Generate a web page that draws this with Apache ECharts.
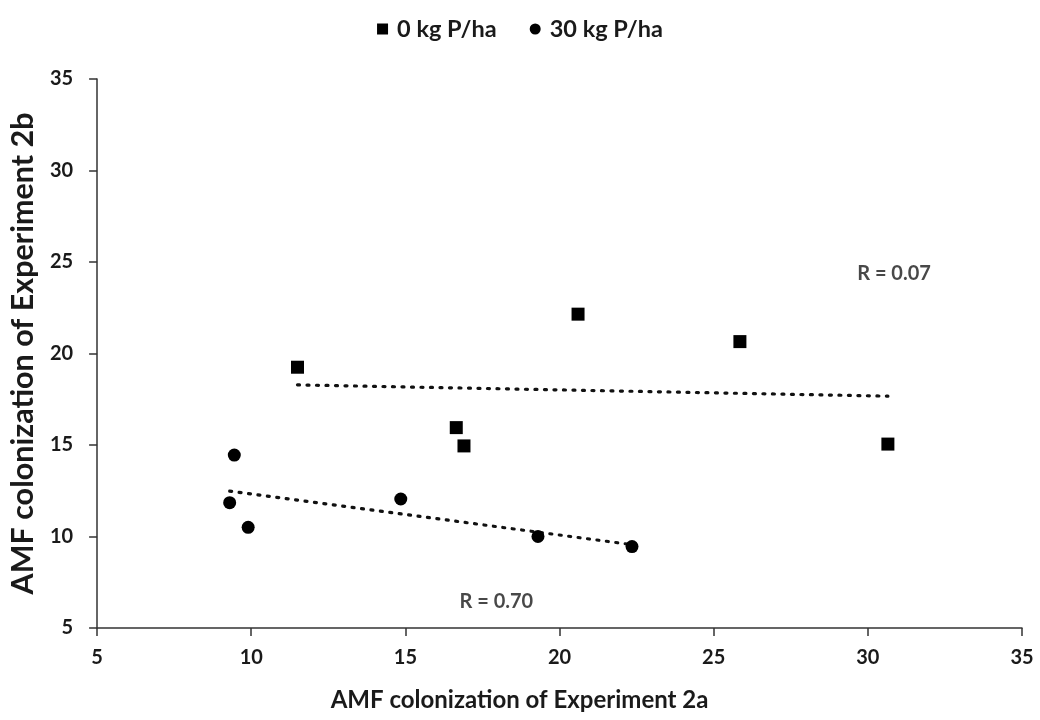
<!DOCTYPE html>
<html><head><meta charset="utf-8">
<script src="https://cdn.jsdelivr.net/npm/echarts@6/dist/echarts.min.js"></script>
<style>html,body{margin:0;padding:0;background:#fff}#c{width:1040px;height:720px}</style>
</head><body><div id="c"></div>
<script>
const seriesNames = ['0 kg P/ha', '30 kg P/ha'];
const p0x = [11.5, 20.6, 25.85, 16.65, 16.9, 30.65];
const p0y = [19.25, 22.15, 20.65, 15.95, 14.95, 15.05];
const p30x = [9.45, 9.3, 9.9, 14.85, 19.3, 22.35];
const p30y = [14.45, 11.85, 10.5, 12.05, 10.0, 9.45];
const rLabels = ['R = 0.07', 'R = 0.70'];
const rPos = [[30.85, 24.35], [17.95, 6.45]];

function zip(xs, ys){ return xs.map((x,i)=>[x, ys[i]]); }
function trend(xs, ys){
  const n = xs.length;
  const mx = xs.reduce((a,b)=>a+b,0)/n, my = ys.reduce((a,b)=>a+b,0)/n;
  let sxy=0, sxx=0;
  for(let i=0;i<n;i++){ sxy+=(xs[i]-mx)*(ys[i]-my); sxx+=(xs[i]-mx)**2; }
  const b = sxy/sxx, a = my - b*mx;
  const x0 = Math.min(...xs), x1 = Math.max(...xs);
  return [[x0, a+b*x0], [x1, a+b*x1]];
}

const font = 'Lato, "Open Sans", sans-serif';
const txt = '#1a1a1a';
const chart = echarts.init(document.getElementById('c'));
chart.setOption({
  animation: false,
  backgroundColor: '#fff',
  grid: { left: 97, right: 18, top: 79, bottom: 92 },
  legend: {
    data: [{name: seriesNames[0], icon: 'rect'}, {name: seriesNames[1], icon: 'circle'}],
    top: 12, left: 'center', itemWidth: 11, itemHeight: 11, itemGap: 33,
    textStyle: { fontFamily: font, fontWeight: 'bold', fontSize: 23.5, color: txt, padding: [0, 0, 0, 4] }
  },
  xAxis: {
    type: 'value', min: 5, max: 35, interval: 5,
    name: 'AMF colonization of Experiment 2a', nameLocation: 'middle', nameGap: 60,
    nameTextStyle: { fontFamily: font, fontWeight: 'bold', fontSize: 24, color: txt, padding: [0, 80, 0, 0] },
    axisLine: { show: true, lineStyle: { color: '#333', width: 1.5 } },
    axisTick: { show: true, length: 8, lineStyle: { color: '#333', width: 1.5 } },
    axisLabel: { fontFamily: font, fontWeight: 'bold', fontSize: 20, color: txt, margin: 20 },
    splitLine: { show: false }
  },
  yAxis: {
    type: 'value', min: 5, max: 35, interval: 5,
    name: 'AMF colonization of Experiment 2b', nameLocation: 'middle', nameGap: 50,
    nameTextStyle: { fontFamily: font, fontWeight: 'bold', fontSize: 30.5, color: txt },
    axisLine: { show: true, lineStyle: { color: '#333', width: 1.5 } },
    axisTick: { show: true, length: 8, lineStyle: { color: '#333', width: 1.5 } },
    axisLabel: { fontFamily: font, fontWeight: 'bold', fontSize: 20, color: txt, margin: 24 },
    splitLine: { show: false }
  },
  series: [
    { name: seriesNames[0], type: 'scatter', symbol: 'rect', symbolSize: 13,
      itemStyle: { color: '#000', opacity: 1 }, data: zip(p0x, p0y), z: 3 },
    { name: seriesNames[1], type: 'scatter', symbol: 'circle', symbolSize: 13,
      itemStyle: { color: '#000', opacity: 1 }, data: zip(p30x, p30y), z: 3 },
    { type: 'line', data: trend(p0x, p0y), symbol: 'none', silent: true,
      lineStyle: { color: '#111', width: 3.2, type: [2, 7.5], cap: 'round' } },
    { type: 'line', data: trend(p30x, p30y), symbol: 'none', silent: true,
      lineStyle: { color: '#111', width: 3.2, type: [2, 7.5], cap: 'round' } },
    { type: 'scatter', symbolSize: 0, silent: true,
      data: rPos.map((p,i)=>({ value: p, label: { formatter: rLabels[i] } })),
      label: { show: true, position: 'inside', fontFamily: font, fontWeight: 'bold', fontSize: 20, color: txt } }
  ]
});
</script></body></html>
